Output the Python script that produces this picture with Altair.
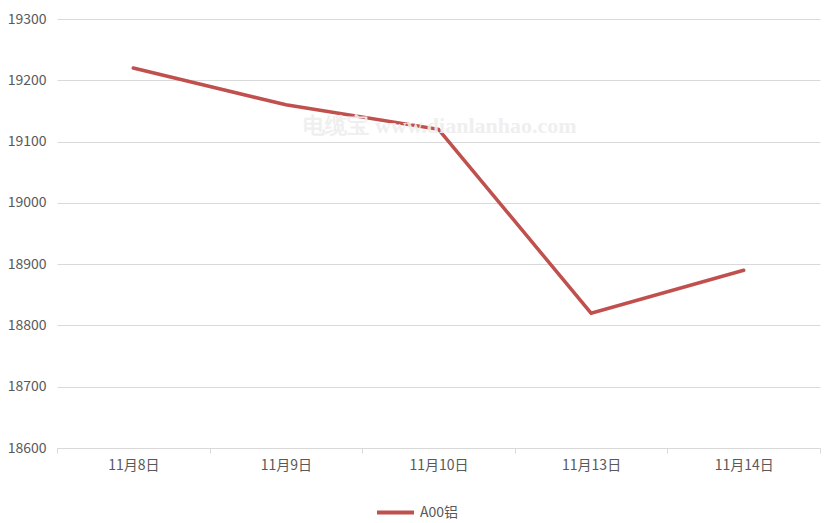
import altair as alt
import pandas as pd

dates = ["11月8日", "11月9日", "11月10日", "11月13日", "11月14日"]
prices = [19220, 19160, 19120, 18820, 18890]
series_name = "A00铝"
watermark = "电缆宝 www.dianlanhao.com"

df = pd.DataFrame({"date": dates, "price": prices, "series": [series_name] * len(dates)})

FONT = "Noto Sans CJK SC"

base = alt.Chart(df)

line = base.mark_line(strokeWidth=3.5, strokeCap="round", strokeJoin="miter").encode(
    x=alt.X("date:N", sort=dates, title=None,
            scale=alt.Scale(paddingInner=0, paddingOuter=0),
            axis=alt.Axis(labelAngle=0, labelFontSize=14, labelColor="#595959", labelFont=FONT,
                          domainColor="#d9d9d9", tickColor="#d9d9d9", tickSize=5,
                          tickBand="extent", grid=False, labelPadding=5)),
    y=alt.Y("price:Q", title=None,
            scale=alt.Scale(domain=[18600, 19300], nice=False, zero=False),
            axis=alt.Axis(values=list(range(18600, 19301, 100)), labelFontSize=14,
                          labelColor="#595959", labelFont=FONT, domain=False, ticks=False,
                          gridColor="#d9d9d9", labelPadding=11, format="d")),
    color=alt.Color("series:N", scale=alt.Scale(range=["#C0504D"]), title=None,
                    legend=alt.Legend(orient="none", legendX=318, legendY=473,
                                      symbolType="stroke", symbolSize=1369,
                                      symbolStrokeWidth=4, labelFontSize=14,
                                      labelColor="#595959", labelFont=FONT,
                                      labelOffset=4, padding=0)),
)

wm = alt.Chart(pd.DataFrame({"t": [watermark]})).mark_text(
    font="Liberation Serif", fontSize=22, fontWeight="bold", color="#eeeeee", opacity=0.9,
    align="center", baseline="middle"
).encode(text="t:N", x=alt.value(383), y=alt.value(107))

chart = alt.layer(line, wm).properties(
    width=763, height=429,
    autosize=alt.AutoSizeParams(type="none"),
    padding={"left": 49, "top": 11, "right": 3, "bottom": 75},
).configure_view(stroke=None)

chart.save("out.html", embed_options={"renderer": "svg", "actions": False})
